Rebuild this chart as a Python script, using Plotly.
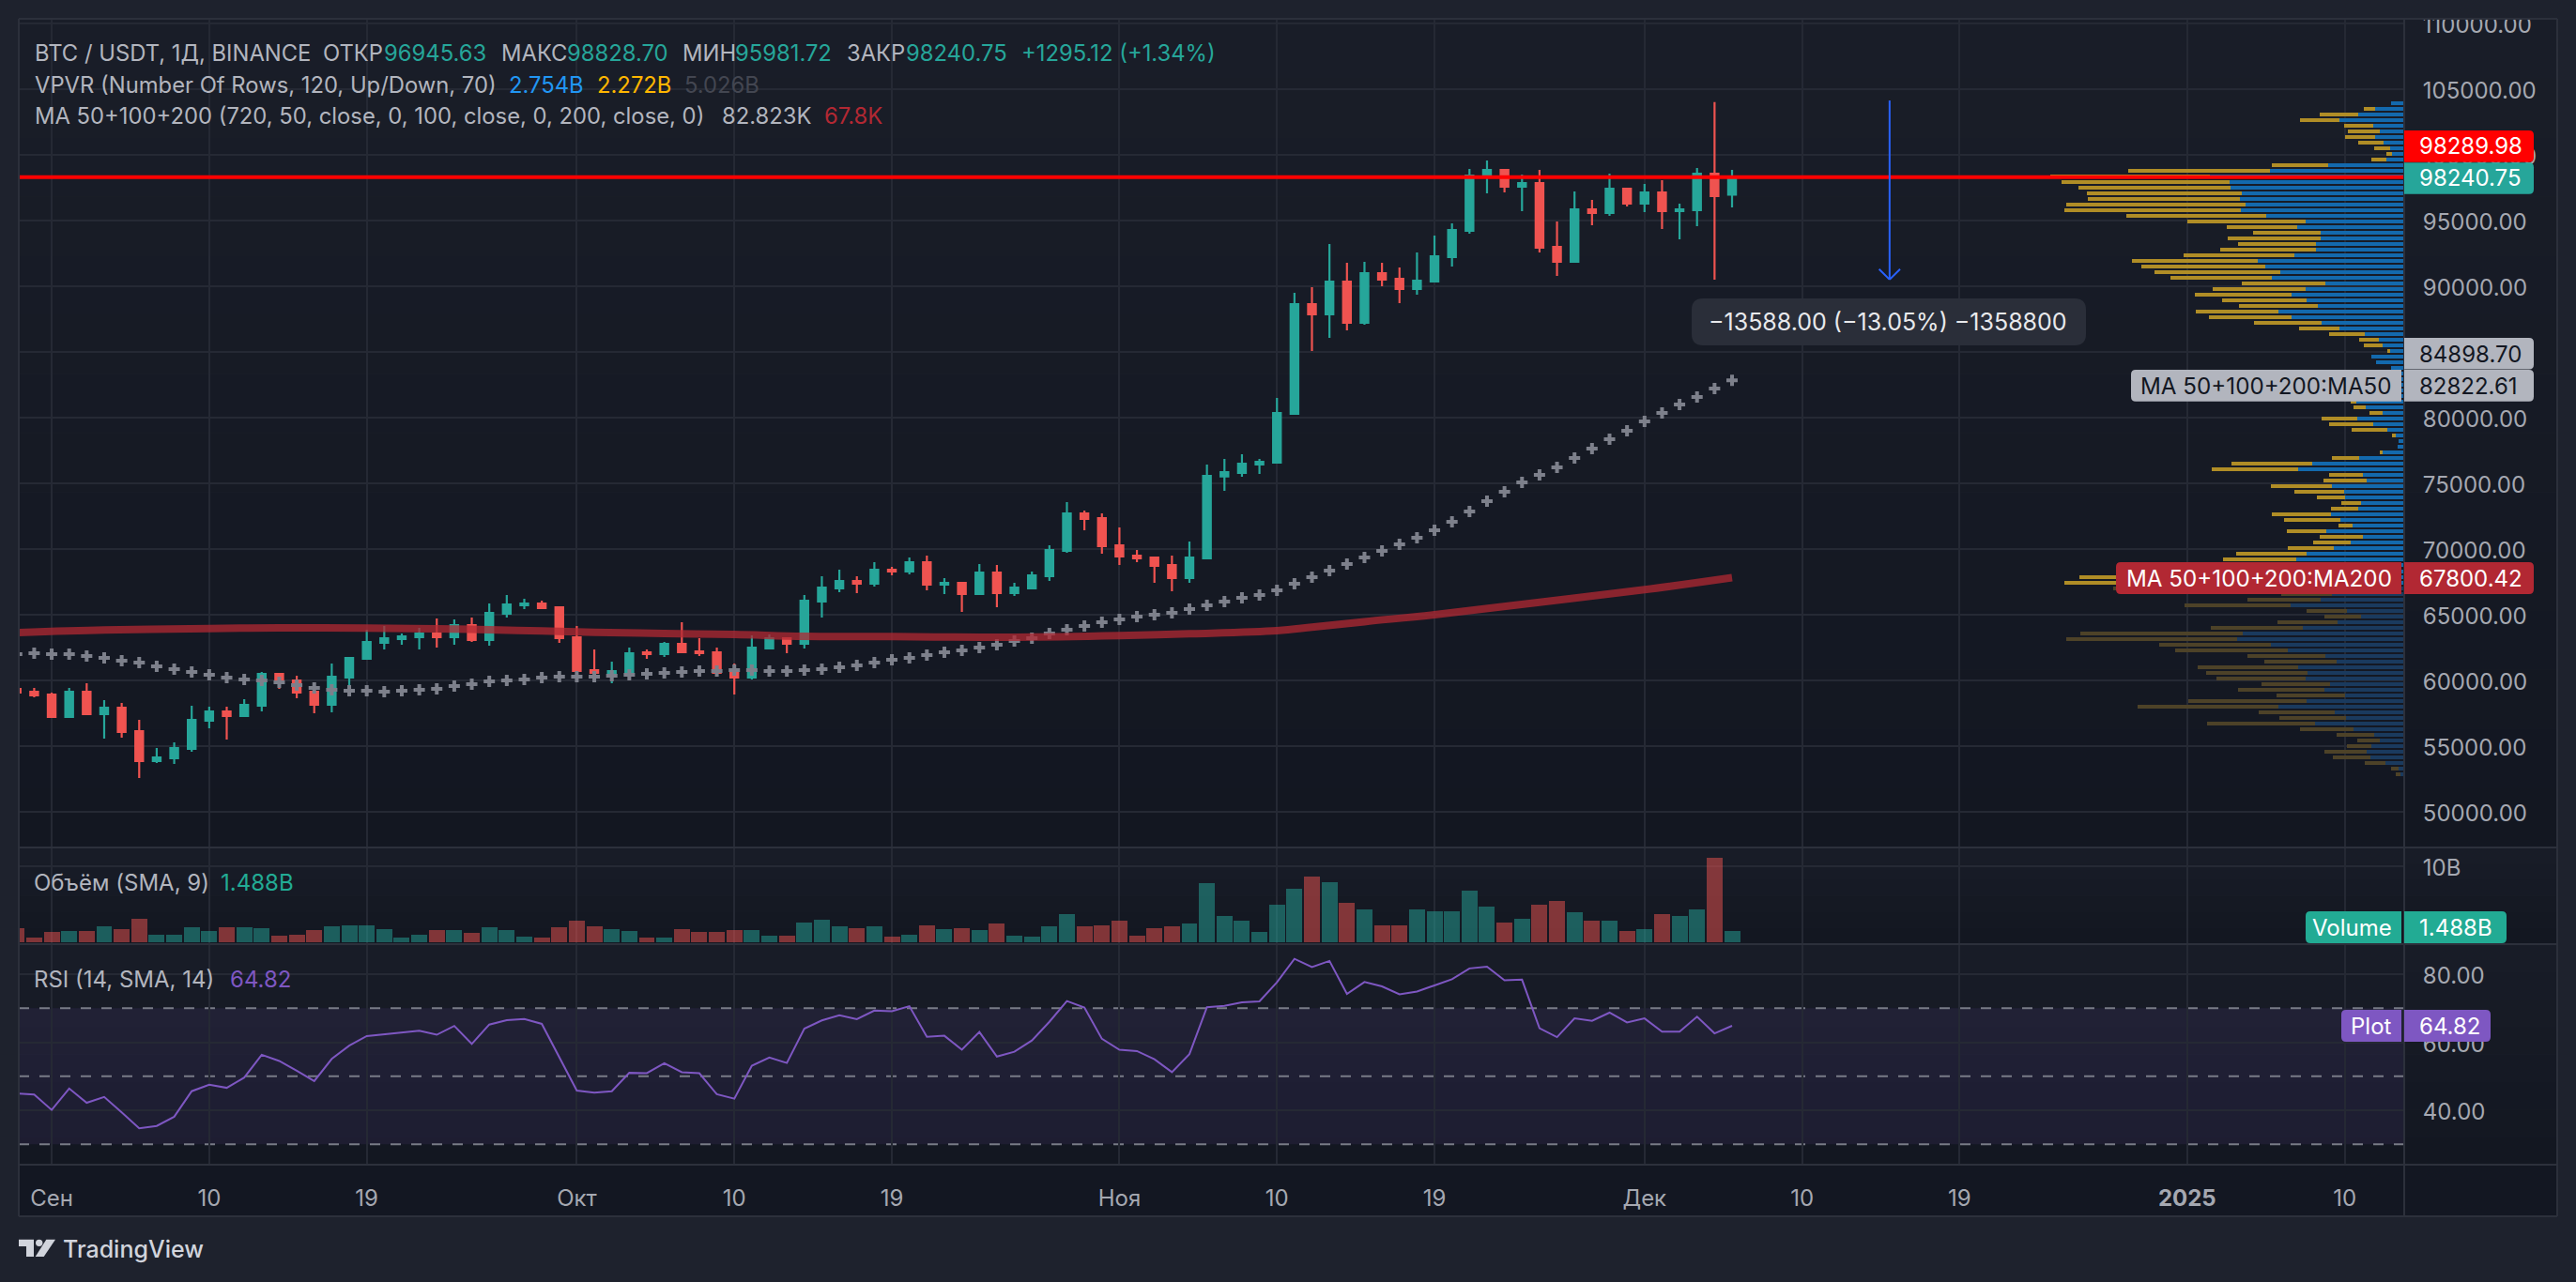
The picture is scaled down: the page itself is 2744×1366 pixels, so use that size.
#!/usr/bin/python3

import pandas as pd
import plotly.graph_objects as go

W, H = 2744, 1366

# --- daily candles, 2024-08-30 onward
first_day = "2024-08-30"
open_ = [59335, 59121, 58907, 57192, 59121, 57407, 57907, 56121, 53835, 54050, 54764, 56907, 57621, 57264, 58050, 60478, 59978, 59121, 58121, 60193,
         61621, 62836, 63121, 63264, 63550, 63264, 64193, 63050, 65050, 65693, 65835, 65550, 63264, 60764, 60550, 60621, 62121, 61979, 62765, 62194,
         62122, 60622, 60194, 62408, 63194, 62765, 65979, 66979, 67551, 67337, 68408, 68265, 68979, 67265, 67408, 66551, 68194, 66622, 66979, 67908,
         69837, 72694, 72337, 70265, 69479, 69337, 68765, 67765, 69265, 75503, 75764, 76408, 76551, 80265, 88622, 87836, 90336, 87193, 90979, 90550,
         89765, 90336, 92193, 94193, 98336, 98836, 97551, 97836, 92979, 91836, 95836, 95551, 97408, 96265, 97122, 95693, 95765, 98551, 96945.63]
high = [59500, 59407, 59050, 59407, 59764, 58478, 58264, 56978, 54835, 55264, 58050, 57978, 57978, 58550, 60621, 60550, 60336, 59121, 61264, 61764,
        63836, 64121, 63550, 63978, 64693, 64621, 64764, 65835, 66478, 66193, 66050, 65550, 64121, 62335, 61407, 62478, 62335, 62908, 64408, 63194,
        62479, 61265, 63408, 63479, 63265, 66479, 67908, 68408, 67908, 68979, 68622, 69337, 69479, 67765, 67408, 68837, 68765, 67408, 68265, 70265,
        73551, 72908, 72694, 71622, 69908, 69337, 69479, 70551, 76400, 76836, 77193, 76836, 81479, 89479, 89908, 93193, 91765, 91836, 91765, 91408,
        92551, 93836, 94765, 98908, 99551, 98836, 98479, 98836, 94908, 97193, 96551, 98551, 97408, 97765, 98051, 96265, 98979, 104000, 98828.70]
low = [58900, 58693, 57192, 57121, 57407, 55550, 55621, 52549, 53692, 53621, 54550, 56335, 55478, 57264, 57621, 59335, 58621, 57478, 57550, 59050,
       61550, 62335, 62693, 62335, 62478, 62693, 62907, 62621, 64764, 65407, 65407, 62836, 60121, 59835, 59764, 60407, 61621, 61765, 62122, 61837,
       60265, 58908, 60051, 62408, 62051, 62408, 64765, 66694, 66622, 67122, 67979, 68051, 66837, 66551, 65194, 66479, 65551, 66408, 66908, 67551,
       69694, 71408, 69622, 68765, 68979, 67408, 66765, 67408, 69265, 74408, 75479, 75693, 76551, 80193, 85050, 86050, 86622, 87050, 89979, 88693,
       89336, 90336, 91479, 93979, 97051, 97122, 95693, 92551, 90765, 91765, 94622, 95336, 96051, 95622, 94336, 93551, 94551, 90479, 95981.72]
close = [59050, 58835, 57192, 59121, 57407, 57907, 56050, 53835, 54121, 54835, 56978, 57621, 57264, 58121, 60478, 59907, 59050, 58121, 60264, 61693,
         62907, 63193, 63336, 63550, 63264, 64193, 63050, 65121, 65764, 65835, 65478, 63193, 60693, 60550, 60693, 62050, 61978, 62765, 62122, 62051,
         60551, 60194, 62479, 63194, 62765, 66051, 67051, 67551, 67337, 68408, 68265, 68979, 67265, 67408, 66551, 68194, 66622, 67051, 67979, 69908,
         72694, 72265, 70194, 69408, 69265, 68694, 67765, 69337, 75551, 75836, 76479, 76621, 80336, 88622, 87836, 90336, 87193, 90979, 90479, 89765,
         90408, 92265, 94265, 98408, 98836, 97551, 97836, 92908, 91836, 95836, 95551, 97408, 96265, 97122, 95693, 95836, 98551, 96836, 98240.75]
# volume in billions
volume = [1.85, 0.62, 1.35, 1.48, 1.48, 2.09, 1.72, 3.08, 0.98, 0.98, 1.97, 1.48, 1.97, 1.97, 1.85, 0.86, 0.98, 1.6, 2.09, 2.21,
          2.21, 1.72, 0.62, 0.98, 1.6, 1.6, 1.23, 1.97, 1.6, 0.74, 0.62, 1.97, 2.83, 2.09, 1.72, 1.48, 0.62, 0.62, 1.72, 1.35,
          1.35, 1.6, 1.6, 0.86, 0.86, 2.58, 2.95, 2.09, 1.85, 2.09, 0.74, 0.98, 2.21, 1.72, 1.85, 1.6, 2.46, 0.86, 0.74, 2.09,
          3.69, 2.09, 2.21, 2.83, 0.86, 1.85, 2.09, 2.46, 7.75, 3.44, 2.83, 1.35, 4.92, 7.01, 8.61, 7.87, 5.17, 4.31, 2.21, 2.21,
          4.31, 4.06, 4.06, 6.77, 4.67, 2.58, 3.08, 4.92, 5.41, 3.94, 2.83, 2.83, 1.48, 1.72, 3.69, 3.44, 4.31, 11.07, 1.488]
rsi = [44.97, 44.6, 40.1, 46.4, 42.2, 43.9, 39.4, 34.7, 35.4, 38.1, 45.6, 47.5, 46.6, 49.6, 56.3, 54.5, 51.6, 48.6, 55.1, 59.0,
       61.8, 62.3, 62.7, 63.4, 62.2, 64.8, 59.5, 65.2, 66.5, 66.8, 65.4, 55.5, 45.8, 45.2, 45.6, 51.0, 50.9, 53.8, 51.2, 50.9,
       44.7, 43.4, 53.1, 55.5, 53.9, 64.0, 66.4, 67.9, 66.8, 69.3, 69.1, 70.6, 61.6, 61.9, 57.8, 63.0, 55.8, 57.2, 60.5, 66.0,
       72.1, 70.2, 61.0, 57.8, 57.4, 55.0, 51.2, 56.5, 70.3, 70.7, 71.7, 72.0, 77.6, 84.5, 82.1, 83.9, 74.2, 77.7, 76.4, 74.1,
       74.9, 76.7, 78.5, 81.7, 82.2, 78.2, 78.4, 64.1, 61.5, 67.0, 66.3, 68.7, 65.8, 67.0, 63.1, 63.1, 67.5, 62.6, 64.82]
ma50 = [61978, 62050, 61978, 61978, 61836, 61693, 61478, 61335, 61050, 60835, 60621, 60407, 60193, 60050, 59978, 59835, 59621, 59407, 59264, 59193,
        59193, 59121, 59193, 59264, 59335, 59550, 59693, 59907, 59978, 60050, 60193, 60264, 60264, 60264, 60336, 60407, 60478, 60551, 60622, 60694,
        60694, 60765, 60765, 60694, 60694, 60765, 60837, 60979, 61122, 61337, 61551, 61694, 61908, 62122, 62265, 62479, 62694, 62979, 63194, 63551,
        63837, 64122, 64408, 64622, 64836, 64979, 65122, 65408, 65694, 65979, 66265, 66479, 66837, 67337, 67837, 68336, 68836, 69336, 69836, 70336,
        70836, 71408, 72051, 72836, 73622, 74336, 75051, 75622, 76193, 76908, 77622, 78336, 78979, 79693, 80336, 80979, 81551, 82193, 82822.61]
ma200_dates = ["2024-08-30", "2024-09-04", "2024-09-10", "2024-09-14", "2024-09-19", "2024-09-23", "2024-09-26", "2024-09-29",
               "2024-10-02", "2024-10-06", "2024-10-10", "2024-10-14", "2024-10-19", "2024-10-26", "2024-11-01", "2024-11-05",
               "2024-11-10", "2024-11-12", "2024-11-15", "2024-11-19", "2024-11-25", "2024-12-01", "2024-12-06"]
ma200 = [63621, 63812, 63931, 63978, 63954, 63907, 63836, 63740, 63645, 63550, 63479, 63336, 63313, 63265, 63384, 63527,
         63765, 64027, 64450, 64980, 65930, 66883, 67800.42]

# --- volume profile, rows from the top, relative volume per row
vp_top = 103907
vp_step = 429
vp_up = [36, 81, 129, 182, 87, 68, 81, 58, 39, 34, 50, 214, 377, 547, 491, 488, 456, 462, 446, 459,
         388, 277, 301, 235, 235, 248, 248, 309, 412, 390, 348, 372, 221, 277, 316, 274, 243, 353, 316, 232,
         182, 111, 71, 60, 39, 92, 79, 36, 40, 60, 80, 90, 120, 134, 108, 60, 132, 87, 47, 23,
         16, 18, 62, 126, 258, 298, 116, 105, 203, 169, 166, 121, 129, 206, 179, 145, 219, 116, 150, 198,
         274, 303, 320, 340, 470, 480, 430, 203, 235, 319, 161, 121, 187, 285, 454, 470, 375, 327, 221, 190,
         298, 272, 277, 208, 224, 166, 274, 353, 195, 163, 250, 142, 84, 68, 92, 105, 95, 52, 16, 10]
vp_down = [0, 32, 108, 111, 82, 90, 85, 71, 45, 16, 42, 158, 399, 448, 472, 428, 436, 427, 504, 496,
           393, 332, 198, 190, 261, 219, 269, 311, 353, 349, 354, 285, 235, 261, 272, 238, 221, 233, 233, 190,
           113, 100, 55, 53, 8, 0, 0, 0, 0, 10, 20, 30, 20, 16, 34, 37, 100, 124, 101, 11,
           0, 0, 6, 77, 227, 243, 95, 122, 172, 140, 79, 56, 77, 166, 159, 39, 111, 121, 106, 129,
           198, 206, 230, 300, 443, 475, 388, 143, 206, 298, 113, 103, 169, 258, 456, 480, 314, 317, 220, 203,
           282, 285, 251, 193, 243, 193, 333, 396, 214, 188, 304, 151, 106, 64, 69, 119, 105, 59, 21, 13]
vp_dim_below = 67100

# --- drawings and last values
level_price = 98289.98
arrow_date = "2024-12-15"
arrow_from, arrow_to = 104116, 90486

price_ticks = [50000, 55000, 60000, 65000, 70000, 75000, 80000, 85000, 90000, 95000, 100000, 105000, 110000]
rsi_ticks = [40, 60, 80]
rsi_levels = [70, 50, 30]
date_ticks = ["2024-09-01", "2024-09-10", "2024-09-19", "2024-10-01", "2024-10-10", "2024-10-19", "2024-11-01",
              "2024-11-10", "2024-11-19", "2024-12-01", "2024-12-10", "2024-12-19", "2025-01-01", "2025-01-10"]
date_labels = ["Сен", "10", "19", "Окт", "10", "19", "Ноя", "10", "19", "Дек", "10", "19", "<b>2025</b>", "10"]

UP, DOWN = "#26a69a", "#ef5350"
OUTER = "#1e222d"
LINE = "#2c303b"
GRID = "#252934"
TXT = "#b2b5be"
TICK = "#a5a8b1"
FONT = "Inter"


def px(x):
    return x / W


def py(y):
    return 1 - y / H


dates = pd.date_range(first_day, periods=len(close))
shapes = []
notes = []


def band(x0, y0, x1, y1, color, layer="below"):
    shapes.append(dict(type="rect", xref="paper", yref="paper", x0=px(x0), x1=px(x1), y0=py(y0), y1=py(y1),
                       fillcolor=color, line_width=0, layer=layer))


def gradient(y0, y1, top, bottom, n=14):
    for i in range(n):
        c = [round(top[k] + (bottom[k] - top[k]) * i / (n - 1)) for k in range(3)]
        band(20, y0 + (y1 - y0) * i / n, 2724, y0 + (y1 - y0) * (i + 1) / n, "rgb(%d,%d,%d)" % tuple(c))


def rule(x0, y0, x1, y1, color=LINE, width=2):
    shapes.append(dict(type="line", xref="paper", yref="paper", x0=px(x0), x1=px(x1), y0=py(y0), y1=py(y1),
                       line=dict(color=color, width=width), layer="above"))


def rrect(x0, y0, x1, y1, color, r=5, left=True, right=True):
    a, b = px(x0), px(x1)
    t, u = py(y0), py(y1)
    rx, ry = r / W, r / H
    rl = rx if left else 0
    rr = rx if right else 0
    ryl = ry if left else 0
    ryr = ry if right else 0
    path = (f"M {a + rl} {t} L {b - rr} {t} Q {b} {t} {b} {t - ryr} L {b} {u + ryr} Q {b} {u} {b - rr} {u} "
            f"L {a + rl} {u} Q {a} {u} {a} {u + ryl} L {a} {t - ryl} Q {a} {t} {a + rl} {t} Z")
    shapes.append(dict(type="path", xref="paper", yref="paper", path=path, fillcolor=color, line_width=0, layer="above"))


def note(x, y, text, color=TXT, size=24, anchor="left", weight=None):
    font = dict(family=FONT, size=size, color=color)
    if weight:
        font["weight"] = weight
    notes.append(dict(xref="paper", yref="paper", x=px(x), y=py(y), text=text, showarrow=False, xanchor=anchor,
                      yanchor="middle", font=font, borderpad=0, borderwidth=0))


# pane backgrounds
gradient(20, 903, (25, 29, 40), (19, 23, 33))
gradient(903, 1006, (24, 28, 39), (19, 23, 33), n=6)
gradient(1006, 1241, (24, 28, 39), (19, 23, 33), n=8)
band(20, 1241, 2724, 1296, "#131722")

# rsi band and levels
shapes.append(dict(type="rect", xref="x domain", yref="y3", x0=0, x1=1, y0=rsi_levels[2], y1=rsi_levels[0],
                   fillcolor="rgba(126,87,194,0.1)", line_width=0, layer="below"))
for lv in rsi_levels:
    shapes.append(dict(type="line", xref="x domain", yref="y3", x0=0, x1=1, y0=lv, y1=lv,
                       line=dict(color="#787b86", width=2, dash="11px,11px"), layer="below"))

# horizontal level and arrow
shapes.append(dict(type="line", xref="x domain", yref="y", x0=0, x1=1, y0=level_price, y1=level_price,
                   line=dict(color="#ff0000", width=4), layer="above"))
arrow_day = pd.Timestamp(arrow_date)
shapes.append(dict(type="line", xref="x", yref="y", x0=arrow_day, x1=arrow_day, y0=arrow_from, y1=arrow_to,
                   line=dict(color="#2962ff", width=2), layer="above"))
for side in (-0.6, 0.6):
    shapes.append(dict(type="line", xref="x", yref="y", x0=arrow_day + pd.Timedelta(days=side), x1=arrow_day,
                       y0=arrow_to + 800, y1=arrow_to, line=dict(color="#2962ff", width=2), layer="above"))

# frame
band(2561, 0, 2744, 20, OUTER, layer="above")
rule(20, 20, 2724, 20)
rule(20, 20, 20, 1296)
rule(2724, 20, 2724, 1296)
rule(20, 1296, 2724, 1296)
rule(2561, 20, 2561, 1296)
rule(20, 903, 2724, 903)
rule(20, 1006, 2724, 1006)
rule(20, 1241, 2724, 1241)

# measure box
rrect(1802, 318, 2222, 368, "#2a2e39", r=12)
note(1820, 343, "−13588.00 (−13.05%) −1358800", color="#e8e9ec", size=25)

# price scale labels
rrect(2561, 139, 2699, 172.7, "#ff0000", left=False)
note(2577, 156, "98289.98", color="#ffffff")
rrect(2561, 173.3, 2699, 206.7, UP, left=False)
note(2577, 190, "98240.75", color="#ffffff")
rrect(2561, 360, 2699, 393.5, TXT, left=False)
note(2577, 377, "84898.70", color="#131722")
rrect(2561, 394, 2699, 427.7, TXT, left=False)
note(2577, 411, "82822.61", color="#131722")
rrect(2270, 394, 2558, 427.7, TXT, right=False)
note(2548, 411, "MA 50+100+200:MA50", color="#131722", anchor="right", size=24.2)
rrect(2561, 599, 2699, 633, "#b22833", left=False)
note(2577, 616, "67800.42", color="#ffffff")
rrect(2254, 599, 2558, 633, "#b22833", right=False)
note(2548, 616, "MA 50+100+200:MA200", color="#ffffff", anchor="right", size=24.2)
rrect(2561, 971, 2670, 1005, "#22ab94", left=False)
note(2577, 988, "1.488B", color="#ffffff")
rrect(2456, 971, 2558, 1005, "#22ab94", right=False)
note(2548, 988, "Volume", color="#ffffff", anchor="right")
rrect(2561, 1076, 2653, 1110, "#7e57c2", left=False)
note(2577, 1093, "64.82", color="#ffffff")
rrect(2494, 1076, 2558, 1110, "#7e57c2", right=False)
note(2548, 1093, "Plot", color="#ffffff", anchor="right")

# legends
row1, row2, row3 = 56, 91, 124
for x, t, c in [(37, "BTC / USDT, 1Д, BINANCE", TXT), (344, "ОТКР", TXT), (409, "96945.63", UP), (534, "МАКС", TXT),
                (604, "98828.70", UP), (727, "МИН", TXT), (783, "95981.72", UP), (902, "ЗАКР", TXT),
                (965, "98240.75", UP), (1088, "+1295.12 (+1.34%)", UP)]:
    note(x, row1, t, color=c, size=23.8)
for x, t, c in [(37, "VPVR (Number Of Rows, 120, Up/Down, 70)", TXT), (542, "2.754B", "#2196f3"),
                (636, "2.272B", "#ffb600"), (729, "5.026B", "#434651")]:
    note(x, row2, t, color=c, size=23.8)
for x, t, c in [(37, "MA 50+100+200 (720, 50, close, 0, 100, close, 0, 200, close, 0)", TXT),
                (769, "82.823K", TXT), (878, "67.8K", "#b22833")]:
    note(x, row3, t, color=c, size=23.8)
note(36, 940, "Объём (SMA, 9)")
note(235, 940, "1.488B", color="#22ab94")
note(36, 1043, "RSI (14, SMA, 14)")
note(245, 1043, "64.82", color="#7e57c2")

# logo
logo = "#d1d4dc"
shapes.append(dict(type="path", xref="paper", yref="paper", fillcolor=logo, line_width=0, layer="above",
                   path=f"M {px(20)} {py(1320.7)} L {px(36)} {py(1320.7)} L {px(36)} {py(1339)} L {px(28)} {py(1339)} "
                        f"L {px(28)} {py(1328)} L {px(20)} {py(1328)} Z"))
shapes.append(dict(type="path", xref="paper", yref="paper", fillcolor=logo, line_width=0, layer="above",
                   path=f"M {px(49.3)} {py(1320.7)} L {px(59)} {py(1320.7)} L {px(46.7)} {py(1339)} L {px(37.7)} {py(1339)} Z"))
shapes.append(dict(type="circle", xref="paper", yref="paper", fillcolor=logo, line_width=0, layer="above",
                   x0=px(38), x1=px(45.4), y0=py(1328), y1=py(1320.7)))
note(67, 1331, "TradingView", color=logo, size=25, weight=500)

# traces
vp_price = [vp_top - i * vp_step for i in range(len(vp_up))]
up_colors = ["#1a3a5e" if p < vp_dim_below else "#1369ad" for p in vp_price]
down_colors = ["#4d4228" if p < vp_dim_below else "#b08d26" for p in vp_price]
vol_colors = ["rgba(38,166,154,0.5)" if c >= o else "rgba(239,83,80,0.5)" for o, c in zip(open_, close)]

fig = go.Figure()
fig.add_trace(go.Bar(x=vp_up, y=vp_price, orientation="h", width=286, marker=dict(color=up_colors, line_width=0),
                     xaxis="x2", yaxis="y"))
fig.add_trace(go.Bar(x=vp_down, y=vp_price, orientation="h", width=286, marker=dict(color=down_colors, line_width=0),
                     xaxis="x2", yaxis="y"))
fig.add_trace(go.Scatter(x=dates, y=ma50, mode="markers", xaxis="x", yaxis="y",
                         marker=dict(symbol="cross", size=10, color="#7d808b", line_width=0)))
fig.add_trace(go.Scatter(x=pd.to_datetime(ma200_dates), y=ma200, mode="lines", xaxis="x", yaxis="y",
                         line=dict(color="rgba(178,40,51,0.75)", width=8, shape="spline")))
fig.add_trace(go.Candlestick(x=dates, open=open_, high=high, low=low, close=close, xaxis="x", yaxis="y", whiskerwidth=0,
                             increasing=dict(line=dict(color=UP, width=2.2), fillcolor=UP),
                             decreasing=dict(line=dict(color=DOWN, width=2.2), fillcolor=DOWN)))
fig.add_trace(go.Bar(x=dates, y=volume, width=0.91 * 86400000, marker=dict(color=vol_colors, line_width=0),
                     xaxis="x", yaxis="y2"))
fig.add_trace(go.Scatter(x=dates, y=rsi, mode="lines", xaxis="x", yaxis="y3", line=dict(color="#7e57c2", width=2)))

tick_font = dict(family=FONT, size=24, color=TICK)
y_common = dict(side="right", anchor="x", showline=False, zeroline=False, gridcolor=GRID, gridwidth=2, automargin=False,
                ticks="outside", ticklen=14, tickcolor="rgba(0,0,0,0)", tickfont=tick_font, fixedrange=True,
                ticklabelshift=2)

fig.update_layout(
    width=W, height=H,
    margin=dict(l=0, r=0, t=0, b=0, pad=0, autoexpand=False),
    paper_bgcolor=OUTER, plot_bgcolor="rgba(0,0,0,0)",
    showlegend=False, hovermode=False,
    barmode="stack", boxgap=0.37,
    font=dict(family=FONT),
    xaxis=dict(domain=[px(20), px(2561)], range=["2024-08-30 02:53", "2025-01-13 09:36"], type="date",
               anchor="y3", rangeslider=dict(visible=False), showline=False, zeroline=False, automargin=False,
               tickmode="array", tickvals=date_ticks, ticktext=date_labels, tickfont=tick_font,
               ticks="outside", ticklen=14, tickcolor="rgba(0,0,0,0)", gridcolor=GRID, gridwidth=2),
    xaxis2=dict(domain=[px(20), px(2561)], range=[6708, 0], overlaying="x", anchor="y", visible=False, automargin=False),
    yaxis=dict(domain=[py(903), py(20)], range=[47264, 110336], tickmode="array", tickvals=price_ticks,
               tickformat=".2f", **y_common),
    yaxis2=dict(domain=[py(1006), py(903)], range=[-0.246, 12.42], tickmode="array", tickvals=[10], ticktext=["10B"],
                **y_common),
    yaxis3=dict(domain=[py(1241), py(1006)], range=[24.0, 88.83], tickmode="array", tickvals=rsi_ticks,
                tickformat=".2f", **y_common),
    shapes=shapes,
    annotations=notes,
)

fig.write_html("out.html", config=dict(displayModeBar=False), post_script="document.body.style.margin='0';")
